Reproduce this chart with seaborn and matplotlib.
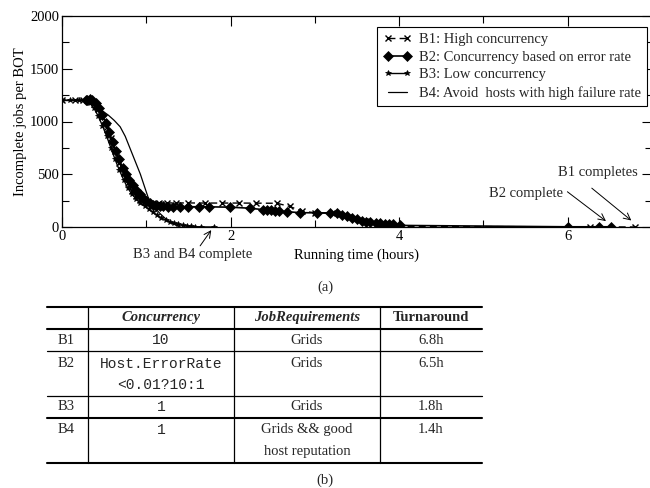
import matplotlib
matplotlib.use("Agg")
import matplotlib.pyplot as plt
from matplotlib.lines import Line2D
import seaborn as sns

# ---------------- data ----------------
b1_x = [0, 0.15, 0.25, 0.33, 0.38, 0.43, 0.48, 0.53, 0.58, 0.63, 0.68, 0.73, 0.78, 0.83, 0.88, 0.93,
        0.98, 1.03, 1.08, 1.15, 1.25, 1.35, 1.5, 1.7, 1.9, 2.1, 2.3, 2.55, 2.7, 2.85, 3.0, 3.2, 3.4,
        3.6, 3.8, 4.0, 6.26, 6.8]
b1_y = [1200, 1200, 1200, 1195, 1170, 1120, 1040, 950, 840, 720, 610, 510, 420, 340, 290, 260,
        240, 232, 228, 228, 228, 228, 228, 227, 227, 227, 226, 225, 195, 150, 135, 128, 95,
        55, 30, 5, 2, 0]

b2_x = [0.28, 0.3, 0.33, 0.36, 0.4, 0.44, 0.48, 0.52, 0.56, 0.6, 0.64, 0.68, 0.72, 0.76, 0.8, 0.84,
        0.88, 0.92, 0.96, 1.0, 1.04, 1.08, 1.12, 1.16, 1.2, 1.26, 1.32, 1.4, 1.5, 1.62, 1.75, 1.99,
        2.23, 2.38, 2.43, 2.48, 2.53, 2.58, 2.67, 2.82, 3.02, 3.18, 3.26, 3.32, 3.38, 3.44, 3.5,
        3.56, 3.61, 3.66, 3.72, 3.77, 3.83, 3.88, 3.93, 4.01, 6.0, 6.37, 6.51]
b2_y = [1200, 1205, 1210, 1205, 1180, 1130, 1060, 985, 900, 810, 720, 640, 560, 500, 450, 400,
        350, 310, 275, 250, 228, 212, 203, 198, 195, 194, 193, 193, 192, 192, 191, 188,
        178, 165, 160, 158, 155, 150, 145, 136, 134, 134, 130, 118, 104, 88, 73,
        60, 50, 43, 38, 35, 31, 28, 24, 15, 2, 2, 2]

b3_x = [0, 0.1, 0.2, 0.28, 0.33, 0.38, 0.43, 0.48, 0.53, 0.58, 0.63, 0.68, 0.73, 0.78, 0.83, 0.88,
        0.93, 0.98, 1.03, 1.08, 1.13, 1.18, 1.23, 1.28, 1.33, 1.38, 1.43, 1.48, 1.53, 1.58, 1.65, 1.8]
b3_y = [1200, 1200, 1200, 1195, 1175, 1125, 1050, 960, 860, 750, 640, 540, 450, 370, 310, 265,
        230, 200, 170, 140, 110, 85, 65, 48, 35, 24, 15, 9, 5, 2, 1, 0]

b4_x = [0, 0.3, 0.4, 0.48, 0.55, 0.62, 0.69, 0.75, 0.81, 0.87, 0.93, 0.98, 1.02, 1.08, 1.16, 1.24,
        1.32, 1.4]
b4_y = [1200, 1200, 1180, 1100, 1060, 1010, 950, 860, 740, 620, 500, 380, 285, 200, 130, 70,
        30, 0]

series_labels = ["B1: High concurrency", "B2: Concurrency based on error rate",
                 "B3: Low concurrency", "B4: Avoid  hosts with high failure rate"]

x_ticks = [0, 2, 4, 6]
y_ticks = [0, 500, 1000, 1500, 2000]

# table data
tbl_header = ["", "Concurrency", "JobRequirements", "Turnaround"]
tbl_rows = ["B1", "B2", "B3", "B4"]
tbl_concurrency = [["10"], ["Host.ErrorRate", "<0.01?10:1"], ["1"], ["1"]]
tbl_jobreq = [["Grids"], ["Grids"], ["Grids"], ["Grids && good", "host reputation"]]
tbl_turnaround = ["6.8h", "6.5h", "1.8h", "1.4h"]

# ---------------- style ----------------
sns.set_theme(style="ticks")
plt.rcParams["font.family"] = ["Liberation Serif", "DejaVu Serif"]
FS = 10.5

W, H = 650, 488
fig = plt.figure(figsize=(W / 100, H / 100), dpi=100)
fig.patch.set_facecolor("white")


def fx(px):
    return px / W


def fy(py):
    return 1 - py / H


ax = fig.add_axes([fx(62), fy(227), fx(652) - fx(62), fy(16) - fy(227)])
ax.set_facecolor("white")

sns.lineplot(x=b1_x, y=b1_y, ax=ax, color="black", lw=1.0, linestyle=(0, (5, 3)),
             marker="x", markersize=4.5, markeredgewidth=1.0, markeredgecolor="black",
             label=series_labels[0], estimator=None, sort=False)
sns.lineplot(x=b2_x, y=b2_y, ax=ax, color="black", lw=1.2,
             marker="D", markersize=5, markeredgewidth=0.5, markeredgecolor="black",
             label=series_labels[1], estimator=None, sort=False)
sns.lineplot(x=b3_x, y=b3_y, ax=ax, color="black", lw=1.0,
             marker="*", markersize=4, markeredgewidth=0.5, markeredgecolor="black",
             label=series_labels[2], estimator=None, sort=False)
sns.lineplot(x=b4_x, y=b4_y, ax=ax, color="black", lw=0.9,
             label=series_labels[3], estimator=None, sort=False)

ax.set_xlim(0, 7)
ax.set_ylim(0, 2000)
ax.set_xticks(x_ticks)
ax.set_yticks(y_ticks)
ax.set_xticks([1, 3, 5], minor=True)
ax.set_yticks([250, 750, 1250, 1750], minor=True)
ax.tick_params(which="both", direction="in", top=True, right=True, color="black",
               labelsize=FS, labelcolor="black", width=0.8, pad=2)
ax.tick_params(which="major", length=7)
ax.tick_params(which="minor", length=5)
for s in ax.spines.values():
    s.set_color("black")
    s.set_linewidth(0.9)

ax.set_xlabel("Running time (hours)", fontsize=FS, color="black", labelpad=4)
ax.set_ylabel("Incomplete jobs per BOT", fontsize=FS, color="black", labelpad=2)

leg = ax.legend(loc="upper right", bbox_to_anchor=(0.992, 0.95), fontsize=FS,
                frameon=True, fancybox=False, edgecolor="black", framealpha=1,
                handlelength=1.9, handletextpad=0.5, labelspacing=0.3,
                borderpad=0.45, numpoints=2, borderaxespad=0)
leg.get_frame().set_linewidth(0.8)

# annotations
ax.text(1.55, -262, "B3 and B4 complete", ha="center", va="center", fontsize=FS,
        clip_on=False)
ax.annotate("", xy=(1.79, -8), xytext=(1.62, -200), annotation_clip=False,
            arrowprops=dict(arrowstyle="->", color="black", lw=0.7))
ax.text(5.5, 322, "B2 complete", ha="center", va="center", fontsize=FS)
ax.annotate("", xy=(6.48, 40), xytext=(5.97, 350),
            arrowprops=dict(arrowstyle="->", color="black", lw=0.7))
ax.text(6.36, 515, "B1 completes", ha="center", va="center", fontsize=FS)
ax.annotate("", xy=(6.78, 45), xytext=(6.26, 385),
            arrowprops=dict(arrowstyle="->", color="black", lw=0.7))

fig.text(fx(325), fy(287), "(a)", ha="center", va="center", fontsize=FS)
fig.text(fx(325), fy(480), "(b)", ha="center", va="center", fontsize=FS)

# ---------------- table ----------------
tx0, tx1 = 47, 482
hlines = [(306.7, 2.0), (329.3, 2.0), (351.3, 1.2), (396.3, 1.2), (417.7, 2.0), (462.7, 2.0)]
for py, lw in hlines:
    fig.add_artist(Line2D([fx(tx0), fx(tx1)], [fy(py), fy(py)], color="black", lw=lw * 0.75,
                          transform=fig.transFigure))
for px in [88, 234, 380]:
    fig.add_artist(Line2D([fx(px), fx(px)], [fy(306.7), fy(462.7)], color="black", lw=0.9,
                          transform=fig.transFigure))

col_cx = [66, 161, 307, 431]
hy = 317.5
fig.text(fx(col_cx[1]), fy(hy), tbl_header[1], ha="center", va="center", fontsize=FS,
         fontweight="bold", fontstyle="italic")
fig.text(fx(col_cx[2]), fy(hy), tbl_header[2], ha="center", va="center", fontsize=FS,
         fontweight="bold", fontstyle="italic")
fig.text(fx(col_cx[3]), fy(hy), tbl_header[3], ha="center", va="center", fontsize=FS,
         fontweight="bold")

row_top_y = [340.5, 363.5, 407, 429.5]
line_gap = 21.5
mono = ["Liberation Mono", "DejaVu Sans Mono"]
for i, lab in enumerate(tbl_rows):
    y0 = row_top_y[i]
    fig.text(fx(col_cx[0]), fy(y0), lab, ha="center", va="center", fontsize=FS)
    for j, line in enumerate(tbl_concurrency[i]):
        fig.text(fx(col_cx[1]), fy(y0 + j * line_gap), line, ha="center", va="center",
                 fontsize=FS, family=mono)
    for j, line in enumerate(tbl_jobreq[i]):
        fig.text(fx(col_cx[2]), fy(y0 + j * line_gap), line, ha="center", va="center",
                 fontsize=FS)
    fig.text(fx(col_cx[3]), fy(y0), tbl_turnaround[i], ha="center", va="center", fontsize=FS)

fig.savefig("out.png", dpi=100, facecolor="white")
